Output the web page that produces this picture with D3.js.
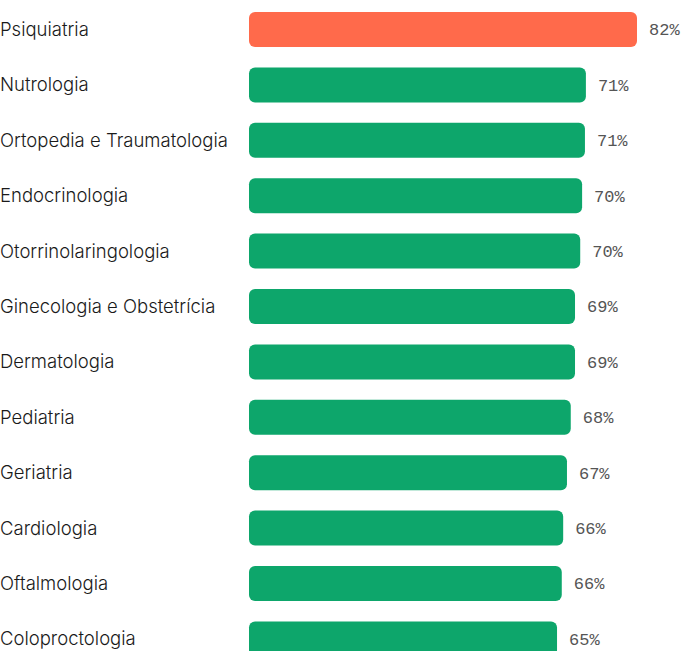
<!DOCTYPE html>
<html>
<head>
<meta charset="utf-8">
<script src="https://cdn.jsdelivr.net/npm/d3@7"></script>
<style>
  html, body { margin: 0; padding: 0; background: #ffffff; }
  svg { display: block; }
</style>
</head>
<body>
<svg id="chart" width="682" height="651"></svg>
<script>
const categories = [
  "Psiquiatria", "Nutrologia", "Ortopedia e Traumatologia", "Endocrinologia",
  "Otorrinolaringologia", "Ginecologia e Obstetrícia", "Dermatologia", "Pediatria",
  "Geriatria", "Cardiologia", "Oftalmologia", "Coloproctologia"
];
const values = [82, 71.2, 71.0, 70.4, 70.0, 68.9, 68.9, 68.0, 67.2, 66.4, 66.1, 65.1];
const valueLabels = ["82%", "71%", "71%", "70%", "70%", "69%", "69%", "68%", "67%", "66%", "66%", "65%"];
const highlight = "Psiquiatria";

const data = categories.map((c, i) => ({ cat: c, value: values[i], label: valueLabels[i] }));

const svg = d3.select("#chart");
const x = d3.scaleLinear().domain([0, 82]).range([249, 637]);
const step = 55.4, pad = 0.368;
const y = d3.scaleBand()
  .domain(categories)
  .range([12, 12 + step * (categories.length - pad)])
  .paddingInner(pad)
  .paddingOuter(0);

const rows = svg.selectAll("g.row").data(data).join("g").attr("class", "row");

rows.append("text")
  .attr("x", 0)
  .attr("y", d => y(d.cat) + y.bandwidth() / 2)
  .attr("dy", "0.35em")
  .attr("font-family", "Inter, 'Noto Sans', sans-serif")
  .attr("font-size", 18.5)
  .attr("font-weight", 300)
  .attr("fill", "#1a1a1a")
  .text(d => d.cat);

rows.append("rect")
  .attr("x", x(0))
  .attr("y", d => y(d.cat))
  .attr("width", d => x(d.value) - x(0))
  .attr("height", y.bandwidth())
  .attr("rx", 6)
  .attr("ry", 6)
  .attr("fill", d => d.cat === highlight ? "#FF6A4B" : "#0DA66B");

rows.append("text")
  .attr("x", d => x(d.value) + 12)
  .attr("y", d => y(d.cat) + y.bandwidth() / 2)
  .attr("dy", "0.35em")
  .attr("font-family", "'Liberation Mono', 'DejaVu Sans Mono', monospace")
  .attr("font-size", 17)
  .attr("fill", "#555555")
  .text(d => d.label);
</script>
</body>
</html>
